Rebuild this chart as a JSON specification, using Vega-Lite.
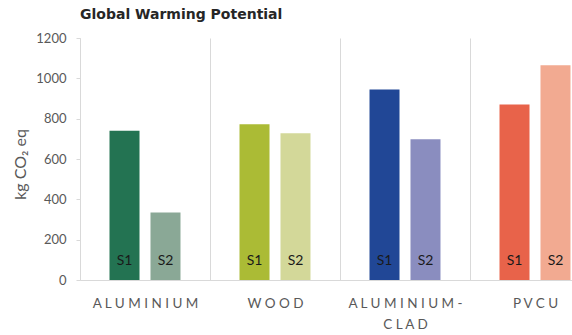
{
  "$schema": "https://vega.github.io/schema/vega-lite/v6.json",
  "width": 520,
  "height": 242,
  "autosize": {"type": "none"},
  "padding": {"left": 80, "top": 38, "right": 0, "bottom": 55},
  "title": {
    "text": "Global Warming Potential",
    "anchor": "start",
    "frame": "group",
    "font": "DejaVu Sans",
    "fontSize": 14,
    "fontWeight": "bold",
    "color": "#262626",
    "offset": 10
  },
  "data": {
    "values": [
      {"material": "ALUMINIUM", "scenario": "S1", "gwp": 740},
      {"material": "ALUMINIUM", "scenario": "S2", "gwp": 335},
      {"material": "WOOD", "scenario": "S1", "gwp": 772},
      {"material": "WOOD", "scenario": "S2", "gwp": 728},
      {"material": "ALUMINIUM-CLAD", "scenario": "S1", "gwp": 945},
      {"material": "ALUMINIUM-CLAD", "scenario": "S2", "gwp": 698},
      {"material": "PVCU", "scenario": "S1", "gwp": 870},
      {"material": "PVCU", "scenario": "S2", "gwp": 1065}
    ]
  },
  "transform": [
    {"calculate": "datum.material + ' ' + datum.scenario", "as": "bar"}
  ],
  "encoding": {
    "x": {
      "field": "material",
      "type": "nominal",
      "sort": null,
      "scale": {"paddingInner": 0, "paddingOuter": 0},
      "axis": {
        "title": null,
        "labelAngle": 0,
        "ticks": false,
        "domainColor": "#d9d9d9",
        "grid": true,
        "gridColor": "#d9d9d9",
        "tickBand": "extent",
        "labelPadding": 16,
        "labelFont": "Lato",
        "labelFontSize": 13.5,
        "labelColor": "#595959",
        "labelLineHeight": 21,
        "labelExpr": "indexof(datum.label, '-') > 0 ? [join(split(slice(datum.label, 0, indexof(datum.label, '-') + 1), ''), ' '), join(split(slice(datum.label, indexof(datum.label, '-') + 1), ''), ' ')] : join(split(datum.label, ''), ' ')"
      }
    },
    "xOffset": {
      "field": "scenario",
      "type": "nominal",
      "scale": {"paddingInner": 0.268, "paddingOuter": 0.72}
    }
  },
  "layer": [
    {
      "mark": {"type": "bar"},
      "encoding": {
        "y": {
          "field": "gwp",
          "type": "quantitative",
          "scale": {"domain": [0, 1200], "nice": false},
          "axis": {
            "values": [0, 200, 400, 600, 800, 1000, 1200],
            "format": "d",
            "grid": false,
            "domainColor": "#d9d9d9",
            "tickColor": "#d9d9d9",
            "tickSize": 4,
            "labelPadding": 10,
            "labelFont": "Lato",
            "labelFontSize": 13,
            "labelColor": "#595959",
            "title": "kg CO₂ eq",
            "titleFont": "Lato",
            "titleFontSize": 16,
            "titleFontWeight": "normal",
            "titleColor": "#595959",
            "titleAngle": -90,
            "titleX": -60,
            "titleY": 126,
            "titleAlign": "center",
            "titleBaseline": "middle"
          }
        },
        "color": {
          "field": "bar",
          "type": "nominal",
          "legend": null,
          "scale": {
            "domain": ["ALUMINIUM S1", "ALUMINIUM S2", "WOOD S1", "WOOD S2", "ALUMINIUM-CLAD S1", "ALUMINIUM-CLAD S2", "PVCU S1", "PVCU S2"],
            "range": ["#237352", "#8aa896", "#abbb35", "#d3d899", "#214796", "#8a8dbf", "#e8634a", "#f2aa91"]
          }
        }
      }
    },
    {
      "mark": {"type": "text", "dy": -19, "baseline": "middle", "font": "Lato", "fontSize": 14, "color": "#1a1a1a"},
      "encoding": {
        "y": {"datum": 0, "type": "quantitative"},
        "text": {"field": "scenario"}
      }
    }
  ],
  "config": {"view": {"stroke": null}}
}
